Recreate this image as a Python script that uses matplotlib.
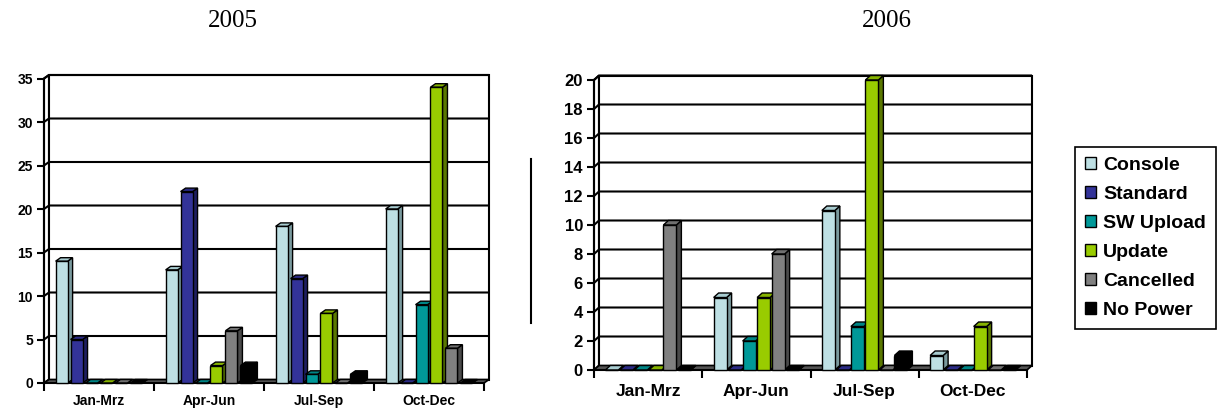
import matplotlib
matplotlib.use("Agg")
import matplotlib.pyplot as plt
from matplotlib.patches import Polygon, Rectangle, Patch
from matplotlib.lines import Line2D
import numpy as np

plt.rcParams['font.family'] = ['Liberation Sans', 'DejaVu Sans']

# ---- data -------------------------------------------------------------
quarters = ["Jan-Mrz", "Apr-Jun", "Jul-Sep", "Oct-Dec"]
series = ["Console", "Standard", "SW Upload", "Update", "Cancelled", "No Power"]

console_2005 = [14, 13, 18, 20]
standard_2005 = [5, 22, 12, 0]
sw_upload_2005 = [0, 0, 1, 9]
update_2005 = [0, 2, 8, 34]
cancelled_2005 = [0, 6, 0, 4]
no_power_2005 = [0, 2, 1, 0]

console_2006 = [0, 5, 11, 1]
standard_2006 = [0, 0, 0, 0]
sw_upload_2006 = [0, 2, 3, 0]
update_2006 = [0, 5, 20, 3]
cancelled_2006 = [10, 8, 0, 0]
no_power_2006 = [0, 0, 1, 0]

yticks_2005 = list(range(0, 36, 5))
yticks_2006 = list(range(0, 21, 2))

# ---- styling ----------------------------------------------------------
front_colors = ["#BEE0E4", "#333399", "#009999", "#99CC00", "#808080", "#000000"]
side_colors = ["#7A9A9E", "#1E1E60", "#005E5E", "#5A7800", "#4A4A4A", "#000000"]
top_colors = ["#A9CDD1", "#2B2B85", "#008585", "#86B300", "#707070", "#000000"]

W, H = 1226, 412
fig = plt.figure(figsize=(W / 100, H / 100), dpi=100)


def px_axes(left, right, bottom, top):
    return fig.add_axes([left / W, 1 - bottom / H, (right - left) / W, (bottom - top) / H])


def draw_chart(ax, data, yticks, width_px, bar_w, step, depth_px,
               tick_fs, label_fs, label_pad, height_px):
    n = len(quarters)
    ymax = yticks[-1]
    x0, x1 = -0.5, n - 0.5
    ax.set_xlim(x0, x1)
    ax.set_ylim(0, ymax)
    ax.patch.set_visible(False)
    ddx = depth_px[0] * n / width_px
    ddy = depth_px[1] * ymax / height_px

    # side wall and back wall
    ax.add_patch(Polygon([(x0, 0), (x0 + ddx, ddy), (x0 + ddx, ymax + ddy), (x0, ymax)],
                         closed=True, fc="white", ec="black", lw=1.5,
                         clip_on=False, zorder=1))
    ax.add_patch(Rectangle((x0 + ddx, ddy), x1 - x0, ymax, fc="white", ec="black",
                           lw=1.5, clip_on=False, zorder=1))
    for v in yticks[1:]:
        ax.plot([x0, x0 + ddx, x1 + ddx], [v, v + ddy, v + ddy], color="black",
                lw=1.5, clip_on=False, zorder=1.5, solid_capstyle="butt")

    # floor
    ax.add_patch(Polygon([(x0, 0), (x1, 0), (x1 + ddx, ddy), (x0 + ddx, ddy)],
                         closed=True, fc="#555555", ec="black", lw=1.2,
                         clip_on=False, zorder=2))

    # 3-D bars: front face, right side and top
    for i, vals in enumerate(data):
        xs = np.arange(n) + (i - (len(data) - 1) / 2) * step
        z = 3 + i * 0.1
        for x, v in zip(xs, vals):
            l, r = x - bar_w / 2, x + bar_w / 2
            ax.add_patch(Polygon([(r, 0), (r + ddx, ddy), (r + ddx, v + ddy), (r, v)],
                                 closed=True, fc=side_colors[i], ec="black", lw=1.0,
                                 clip_on=False, zorder=z))
            ax.add_patch(Polygon([(l, v), (r, v), (r + ddx, v + ddy), (l + ddx, v + ddy)],
                                 closed=True, fc=top_colors[i], ec="black", lw=1.0,
                                 clip_on=False, zorder=z))
        ax.bar(xs, vals, width=bar_w, color=front_colors[i], edgecolor="black",
               linewidth=1.0, zorder=z + 0.05, clip_on=False)

    # axes lines and ticks
    for s in ("top", "right"):
        ax.spines[s].set_visible(False)
    for s in ("left", "bottom"):
        ax.spines[s].set_linewidth(1.5)
        ax.spines[s].set_zorder(2.5)
    ax.set_yticks(yticks)
    ax.set_yticklabels([str(t) for t in yticks], fontsize=tick_fs, fontweight="bold")
    ax.tick_params(axis="y", direction="out", length=5, width=1.5, pad=3)
    ax.set_xticks(np.arange(n))
    ax.set_xticklabels(quarters, fontsize=label_fs, fontweight="bold")
    ax.set_xticks(np.arange(n + 1) - 0.5, minor=True)
    ax.tick_params(axis="x", which="major", length=0, pad=label_pad)
    ax.tick_params(axis="x", which="minor", direction="out", length=6, width=1.5)


data_2005 = [console_2005, standard_2005, sw_upload_2005, update_2005,
             cancelled_2005, no_power_2005]
data_2006 = [console_2006, standard_2006, sw_upload_2006, update_2006,
             cancelled_2006, no_power_2006]

ax1 = px_axes(44, 484, 383, 78.5)
draw_chart(ax1, data_2005, yticks_2005, width_px=440, bar_w=0.109, step=0.136,
           depth_px=(5, 3.5), tick_fs=10, label_fs=10, label_pad=8, height_px=304.5)

ax2 = px_axes(594, 1027, 370, 80)
draw_chart(ax2, data_2006, yticks_2006, width_px=433, bar_w=0.12, step=0.134,
           depth_px=(5, 4.5), tick_fs=12, label_fs=12.5, label_pad=10, height_px=290)

# year headings
fig.text(233 / W, 1 - 21 / H, "2005", family="Liberation Serif", fontsize=18,
         ha="center", va="center")
fig.text(887 / W, 1 - 21 / H, "2006", family="Liberation Serif", fontsize=18,
         ha="center", va="center")

# separator line between the two charts
fig.add_artist(Line2D([531 / W, 531 / W], [1 - 159 / H, 1 - 323 / H],
                      color="black", lw=1.5))

# shared legend
handles = [Patch(fc=c, ec="black", lw=1.0) for c in front_colors]
leg = fig.legend(handles, series, loc="upper left",
                 bbox_to_anchor=(1075 / W, 1 - 147 / H), frameon=True,
                 fancybox=False, edgecolor="black", framealpha=1,
                 prop={"size": 14, "weight": "bold"}, handlelength=0.6,
                 handleheight=0.6, handletextpad=0.35, labelspacing=0.62,
                 borderpad=0.5, borderaxespad=0)
leg.get_frame().set_linewidth(1.2)

fig.savefig("out.png", dpi=100)
